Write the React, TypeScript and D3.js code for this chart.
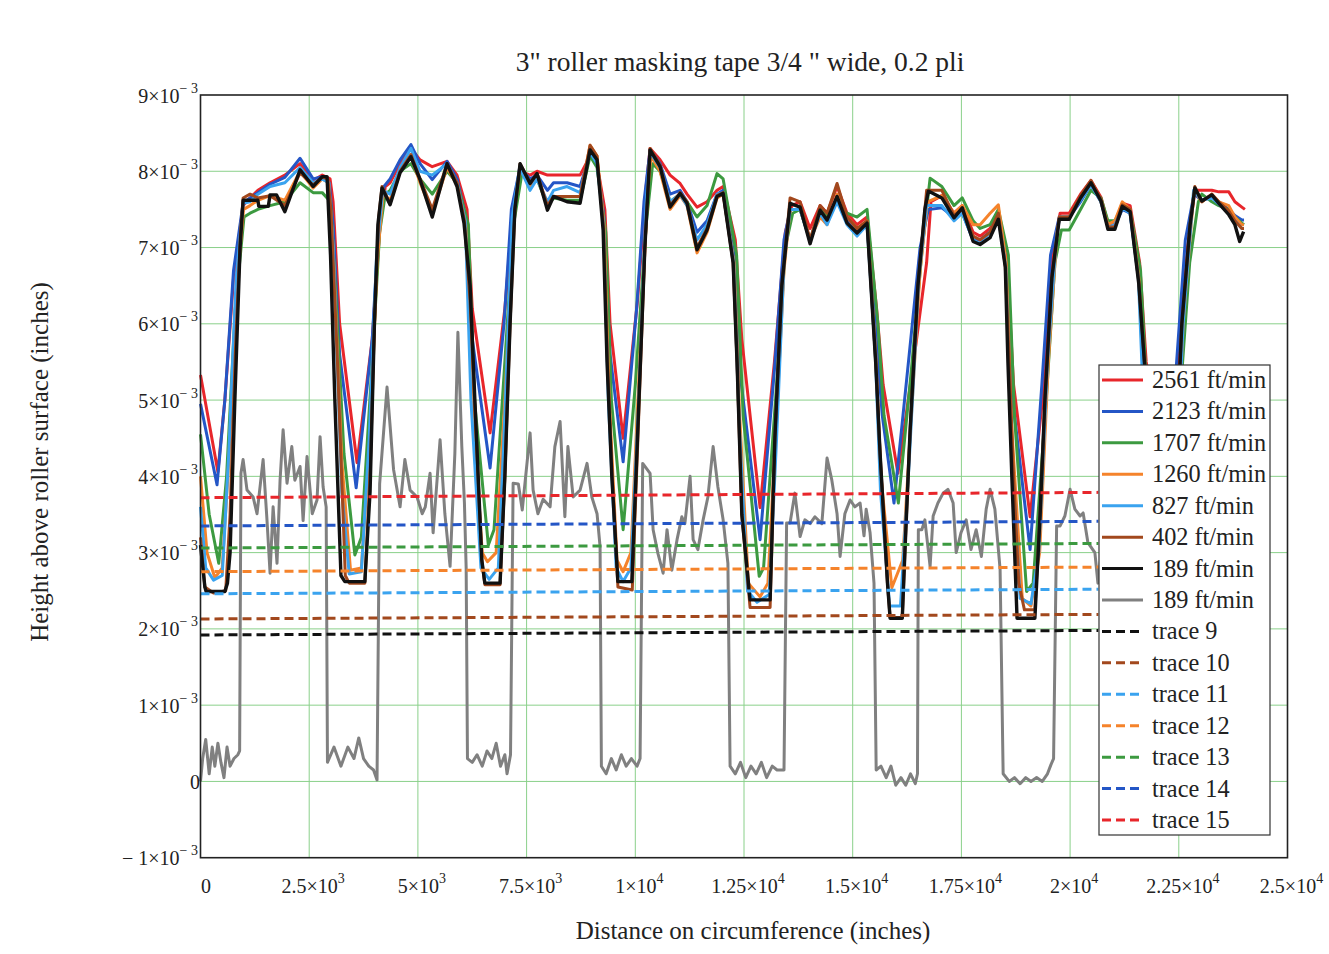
import React from 'react';
import * as d3 from 'd3';

const W = 1329;
const H = 954;

// axis ticks
const xTicks = [0, 2500, 5000, 7500, 10000, 12500, 15000, 17500, 20000, 22500, 25000];
const xTickBase = ['0', '2.5×10', '5×10', '7.5×10', '1×10', '1.25×10', '1.5×10', '1.75×10', '2×10', '2.25×10', '2.5×10'];
const xTickExp = ['', '3', '3', '3', '4', '4', '4', '4', '4', '4', '4'];

// y values are in thousandths of an inch
const yTicks = [-1, 0, 1, 2, 3, 4, 5, 6, 7, 8, 9];
const yTickBase = ['− 1×10', '0', '1×10', '2×10', '3×10', '4×10', '5×10', '6×10', '7×10', '8×10', '9×10'];
const yTickExp = ['− 3', '', '− 3', '− 3', '− 3', '− 3', '− 3', '− 3', '− 3', '− 3', '− 3'];

// [distance (in), height (1e-3 in)]
const speed2561 = [
  [0, 5.33], [400, 4.06], [560, 5.0], [760, 6.6], [980, 7.55],
  [1140, 7.65], [1320, 7.75], [1600, 7.85], [1940, 7.95], [2290, 8.1], [2590, 7.88], [2800, 7.95], [2980, 7.9],
  [3050, 7.6], [3200, 6.0], [3600, 4.18], [3950, 5.8], [4130, 7.3], [4250, 7.8],
  [4360, 7.85], [4590, 8.1], [4840, 8.3], [5050, 8.15], [5330, 8.06], [5670, 8.13], [5900, 7.95], [6130, 7.5],
  [6250, 6.2], [6660, 4.57], [7000, 6.2], [7200, 7.6], [7350, 8.0],
  [7580, 7.95], [7740, 8.0], [7980, 7.95], [8430, 7.95], [8730, 7.95], [8960, 8.2], [9120, 8.1], [9300, 7.5],
  [9420, 6.0], [9720, 4.5], [10050, 6.3], [10250, 7.8], [10340, 8.3],
  [10570, 8.15], [10800, 7.95], [11030, 7.84], [11190, 7.7], [11420, 7.53], [11650, 7.6], [11880, 7.75], [12020, 7.8], [12300, 7.1],
  [12450, 5.8], [12870, 3.59], [13200, 5.5], [13450, 7.2], [13600, 7.55],
  [13790, 7.6], [14020, 7.25], [14250, 7.55], [14410, 7.45], [14640, 7.8], [14870, 7.45], [15100, 7.3], [15330, 7.4], [15550, 6.2],
  [15700, 5.2], [16040, 4.04], [16400, 5.5], [16700, 6.8], [16800, 7.6],
  [17050, 7.68], [17330, 7.45], [17520, 7.55], [17770, 7.2], [17930, 7.15], [18160, 7.25], [18350, 7.45], [18550, 6.8],
  [18700, 5.2], [19080, 3.47], [19400, 5.2], [19600, 6.9], [19770, 7.45],
  [19980, 7.45], [20240, 7.7], [20480, 7.88], [20710, 7.66], [20870, 7.32], [21030, 7.3], [21200, 7.58], [21380, 7.55], [21600, 6.8],
  [21750, 5.5], [22250, 3.8], [22500, 5.5], [22700, 7.0], [22870, 7.75],
  [23030, 7.75], [23260, 7.75], [23420, 7.73], [23650, 7.73], [23790, 7.6], [23950, 7.53], [24020, 7.5],
];

const speed2123 = [
  [0, 4.95], [380, 3.89], [560, 5.0], [760, 6.7], [980, 7.58],
  [1140, 7.65], [1320, 7.72], [1600, 7.83], [1940, 7.92], [2290, 8.17], [2590, 7.9], [2800, 7.93], [2960, 7.85],
  [3050, 7.3], [3200, 5.6], [3580, 3.85], [3950, 5.8], [4100, 7.3], [4220, 7.8],
  [4360, 7.9], [4590, 8.15], [4840, 8.35], [5050, 8.1], [5330, 7.89], [5670, 8.13], [5900, 7.9], [6100, 7.4],
  [6250, 5.8], [6660, 4.11], [6980, 6.0], [7150, 7.5], [7350, 8.05],
  [7580, 7.9], [7740, 7.95], [7980, 7.75], [8120, 7.85], [8430, 7.85], [8730, 7.8], [8960, 8.22], [9120, 8.1], [9280, 7.4],
  [9420, 5.6], [9720, 4.19], [10030, 6.2], [10200, 7.6], [10340, 8.28],
  [10570, 8.1], [10800, 7.7], [11030, 7.75], [11190, 7.6], [11420, 7.2], [11650, 7.35], [11880, 7.7], [12020, 7.75], [12270, 6.9],
  [12420, 5.3], [12870, 3.17], [13200, 5.4], [13420, 7.1], [13560, 7.5],
  [13790, 7.5], [14020, 7.1], [14250, 7.45], [14410, 7.35], [14640, 7.62], [14870, 7.35], [15100, 7.2], [15330, 7.3], [15530, 5.9],
  [15680, 4.8], [15950, 3.65], [16300, 5.6], [16550, 7.0], [16740, 7.5],
  [17050, 7.52], [17330, 7.4], [17520, 7.45], [17770, 7.1], [17930, 7.1], [18160, 7.2], [18350, 7.4], [18530, 6.7],
  [18680, 5.0], [19080, 3.04], [19350, 5.2], [19550, 6.9], [19750, 7.4],
  [19980, 7.4], [20240, 7.6], [20480, 7.82], [20710, 7.6], [20870, 7.28], [21030, 7.28], [21200, 7.5], [21380, 7.45], [21580, 6.6],
  [21720, 5.3], [22200, 3.4], [22450, 5.5], [22650, 7.1], [22850, 7.7],
  [23030, 7.62], [23260, 7.68], [23420, 7.6], [23650, 7.5], [23790, 7.42], [23950, 7.36], [24000, 7.36],
];

const speed1707 = [
  [0, 4.55], [200, 3.5], [420, 2.86], [600, 4.0], [800, 6.2], [1000, 7.4],
  [1140, 7.45], [1320, 7.5], [1600, 7.55], [1940, 7.6], [2290, 7.85], [2590, 7.72], [2800, 7.72], [2990, 7.6],
  [3100, 6.5], [3300, 4.3], [3550, 2.97], [3700, 3.2], [3950, 5.5], [4120, 7.2], [4250, 7.7],
  [4360, 7.75], [4590, 8.0], [4840, 8.1], [5050, 7.9], [5330, 7.7], [5670, 8.0], [5900, 7.85], [6160, 7.3],
  [6300, 5.0], [6620, 3.1], [6750, 3.3], [7000, 5.5], [7200, 7.3], [7400, 8.0],
  [7580, 7.82], [7740, 7.9], [7980, 7.55], [8120, 7.65], [8430, 7.62], [8730, 7.62], [8960, 8.2], [9120, 8.05], [9320, 7.2],
  [9450, 5.0], [9720, 3.3], [10000, 5.2], [10250, 7.3], [10400, 8.1],
  [10570, 8.0], [10800, 7.6], [11030, 7.7], [11190, 7.6], [11420, 7.4], [11650, 7.55], [11880, 7.97], [12020, 7.9], [12330, 6.9],
  [12480, 4.8], [12850, 2.69], [12950, 2.8], [13250, 5.2], [13450, 7.0], [13620, 7.45],
  [13790, 7.5], [14020, 7.1], [14250, 7.5], [14410, 7.4], [14640, 7.6], [14870, 7.45], [15100, 7.4], [15330, 7.5], [15580, 6.0],
  [15720, 4.8], [16050, 3.65], [16350, 5.4], [16600, 7.0], [16780, 7.91],
  [17050, 7.8], [17330, 7.55], [17520, 7.65], [17770, 7.35], [17930, 7.25], [18160, 7.3], [18350, 7.5], [18580, 6.9],
  [18720, 4.8], [19000, 2.49], [19150, 2.6], [19450, 5.0], [19650, 6.8], [19800, 7.23],
  [19980, 7.23], [20240, 7.5], [20480, 7.75], [20710, 7.65], [20870, 7.35], [21030, 7.35], [21200, 7.55], [21380, 7.5], [21620, 6.7],
  [21780, 4.9], [22150, 2.8], [22300, 3.0], [22550, 5.2], [22750, 6.8], [22950, 7.6],
  [23030, 7.7], [23260, 7.6], [23420, 7.55], [23650, 7.5], [23790, 7.4], [23950, 7.32], [24000, 7.3],
];

const speed1260 = [
  [0, 4.0], [150, 3.0], [330, 2.67], [500, 2.8], [650, 4.2], [820, 6.4], [990, 7.5],
  [1140, 7.55], [1320, 7.62], [1600, 7.68], [1940, 7.62], [2290, 8.0], [2590, 7.78], [2800, 7.9], [2950, 7.85],
  [3050, 7.0], [3250, 4.2], [3450, 2.77], [3700, 2.8], [3900, 4.5], [4060, 6.8], [4200, 7.7],
  [4360, 7.62], [4590, 8.02], [4840, 8.2], [5050, 7.85], [5330, 7.45], [5670, 8.05], [5900, 7.82], [6100, 7.3],
  [6250, 5.0], [6480, 3.0], [6600, 2.88], [6800, 3.0], [7000, 5.0], [7200, 7.4], [7350, 8.05],
  [7580, 7.8], [7740, 7.92], [7980, 7.55], [8120, 7.67], [8430, 7.67], [8730, 7.67], [8960, 8.34], [9120, 8.2], [9280, 7.3],
  [9400, 5.0], [9580, 2.9], [9720, 2.75], [9900, 3.0], [10100, 5.5], [10280, 7.7], [10360, 8.2],
  [10570, 8.0], [10800, 7.5], [11030, 7.68], [11190, 7.55], [11420, 6.93], [11650, 7.2], [11880, 7.65], [12020, 7.7], [12270, 6.8],
  [12400, 4.8], [12600, 2.6], [12870, 2.42], [13050, 2.6], [13250, 4.8], [13420, 6.7], [13560, 7.5],
  [13790, 7.5], [14020, 7.1], [14250, 7.4], [14410, 7.3], [14640, 7.7], [14870, 7.4], [15100, 7.25], [15330, 7.35], [15530, 5.6],
  [15650, 4.0], [15900, 2.54], [16150, 2.9], [16350, 4.8], [16550, 6.7], [16720, 7.6],
  [17050, 7.68], [17330, 7.45], [17520, 7.55], [17770, 7.3], [17930, 7.3], [18160, 7.45], [18350, 7.56], [18530, 6.8],
  [18650, 4.7], [18900, 2.4], [19100, 2.3], [19300, 3.0], [19500, 5.5], [19700, 7.2], [19760, 7.4],
  [19980, 7.4], [20240, 7.65], [20480, 7.85], [20710, 7.6], [20870, 7.3], [21030, 7.35], [21200, 7.6], [21380, 7.5], [21580, 6.6],
  [21720, 4.8], [21950, 2.6], [22200, 2.4], [22400, 3.5], [22600, 6.0], [22850, 7.75],
  [23030, 7.6], [23260, 7.7], [23420, 7.6], [23650, 7.55], [23790, 7.4], [23950, 7.3], [24000, 7.3],
];

const speed827 = [
  [0, 3.6], [120, 2.8], [300, 2.64], [500, 2.7], [650, 4.3], [820, 6.6], [980, 7.58],
  [1140, 7.6], [1320, 7.7], [1600, 7.8], [1940, 7.85], [2290, 8.05], [2590, 7.85], [2800, 7.9], [2950, 7.85],
  [3050, 7.0], [3250, 3.8], [3420, 2.72], [3700, 2.75], [3880, 4.5], [4050, 6.9], [4190, 7.75],
  [4360, 7.7], [4590, 8.05], [4840, 8.3], [5050, 8.0], [5330, 7.95], [5670, 8.1], [5900, 7.85], [6090, 7.35],
  [6220, 5.0], [6450, 2.8], [6640, 2.65], [6850, 2.8], [7000, 4.8], [7170, 7.4], [7340, 8.05],
  [7580, 7.75], [7740, 7.9], [7980, 7.6], [8120, 7.75], [8430, 7.8], [8730, 7.72], [8960, 8.25], [9120, 8.1], [9270, 7.3],
  [9380, 5.0], [9560, 2.8], [9720, 2.62], [9900, 2.8], [10080, 5.0], [10250, 7.6], [10340, 8.25],
  [10570, 8.05], [10800, 7.6], [11030, 7.7], [11190, 7.55], [11420, 7.1], [11650, 7.3], [11880, 7.7], [12020, 7.72], [12260, 6.8],
  [12390, 4.7], [12580, 2.5], [12800, 2.35], [13080, 2.45], [13250, 4.5], [13420, 6.8], [13560, 7.5],
  [13790, 7.5], [14020, 7.08], [14250, 7.45], [14410, 7.3], [14640, 7.6], [14870, 7.3], [15100, 7.15], [15330, 7.3], [15520, 5.6],
  [15640, 3.8], [15850, 2.3], [16100, 2.3], [16300, 4.2], [16520, 6.6], [16700, 7.55],
  [17050, 7.55], [17330, 7.35], [17520, 7.45], [17770, 7.1], [17930, 7.05], [18160, 7.2], [18350, 7.42], [18520, 6.75],
  [18640, 4.5], [18850, 2.4], [19100, 2.33], [19280, 3.0], [19480, 5.5], [19680, 7.1], [19760, 7.4],
  [19980, 7.4], [20240, 7.62], [20480, 7.82], [20710, 7.6], [20870, 7.26], [21030, 7.3], [21200, 7.52], [21380, 7.45], [21570, 6.6],
  [21700, 4.8], [21930, 2.5], [22220, 2.3], [22400, 3.5], [22600, 6.0], [22840, 7.75],
  [23030, 7.62], [23260, 7.65], [23420, 7.57], [23650, 7.45], [23790, 7.35], [23950, 7.25], [24000, 7.25],
];

const speed402 = [
  [0, 3.2], [100, 2.55], [300, 2.47], [580, 2.5], [680, 3.5], [800, 5.6], [920, 7.2], [980, 7.65],
  [1140, 7.7], [1320, 7.65], [1600, 7.68], [1940, 7.55], [2290, 7.98], [2590, 7.82], [2800, 7.92], [2930, 7.9],
  [3000, 7.5], [3150, 5.5], [3330, 2.7], [3420, 2.6], [3780, 2.6], [3900, 4.0], [4000, 6.0], [4100, 7.4], [4175, 7.8],
  [4360, 7.58], [4590, 8.0], [4840, 8.22], [5050, 7.9], [5330, 7.5], [5670, 8.1], [5900, 7.85], [6070, 7.35],
  [6200, 6.3], [6320, 4.8], [6470, 2.9], [6540, 2.58], [6890, 2.58], [7000, 4.0], [7120, 6.0], [7230, 7.5], [7350, 8.1],
  [7580, 7.85], [7740, 7.97], [7980, 7.55], [8120, 7.67], [8430, 7.67], [8730, 7.67], [8960, 8.34], [9120, 8.2], [9270, 7.25],
  [9360, 5.5], [9470, 4.0], [9600, 2.55], [9930, 2.51], [10060, 4.5], [10220, 7.0], [10340, 8.3],
  [10570, 8.08], [10800, 7.55], [11030, 7.72], [11190, 7.6], [11420, 7.0], [11650, 7.25], [11880, 7.68], [12020, 7.72], [12250, 6.8],
  [12340, 5.5], [12450, 3.5], [12640, 2.28], [13100, 2.28], [13210, 4.5], [13370, 6.5], [13560, 7.65],
  [13790, 7.6], [14020, 7.1], [14250, 7.55], [14410, 7.45], [14640, 7.84], [14870, 7.4], [15100, 7.25], [15330, 7.35], [15530, 5.5],
  [15630, 4.3], [15800, 2.6], [15860, 2.15], [16140, 2.15], [16200, 3.0], [16320, 4.6], [16500, 6.5], [16700, 7.75],
  [17050, 7.75], [17330, 7.42], [17520, 7.5], [17770, 7.15], [17930, 7.1], [18160, 7.2], [18350, 7.45], [18510, 6.75],
  [18600, 5.5], [18700, 4.0], [18820, 2.6], [18950, 2.25], [19190, 2.25], [19310, 3.5], [19420, 5.0], [19580, 6.6], [19750, 7.4],
  [19980, 7.4], [20240, 7.68], [20480, 7.88], [20710, 7.63], [20870, 7.27], [21030, 7.27], [21200, 7.56], [21380, 7.5], [21580, 6.55],
  [21720, 5.4], [21900, 3.5], [22000, 2.25], [22250, 2.2], [22410, 4.0], [22570, 6.0], [22760, 7.3], [22870, 7.8],
  [23030, 7.6], [23260, 7.7], [23420, 7.6], [23650, 7.48], [23790, 7.35], [23950, 7.25], [24000, 7.25],
];

const speed189 = [
  [0, 3.1], [100, 2.55], [130, 2.49], [560, 2.49], [620, 2.6], [680, 3.0], [790, 5.0], [910, 7.0], [980, 7.62],
  [1320, 7.62], [1340, 7.54], [1560, 7.54], [1600, 7.69], [1750, 7.69], [1940, 7.47], [2290, 8.02], [2590, 7.8], [2800, 7.93], [2910, 7.93],
  [2990, 6.9], [3090, 5.0], [3230, 2.7], [3320, 2.62], [3780, 2.62], [3900, 3.8], [4000, 6.0], [4080, 7.3], [4175, 7.78],
  [4360, 7.56], [4590, 7.98], [4840, 8.19], [5050, 7.89], [5330, 7.4], [5670, 8.1], [5900, 7.8], [6060, 7.32],
  [6200, 6.5], [6310, 5.0], [6470, 2.9], [6540, 2.6], [6890, 2.6], [7000, 4.0], [7120, 6.0], [7230, 7.5], [7350, 8.1],
  [7580, 7.84], [7740, 7.97], [7980, 7.49], [8120, 7.67], [8430, 7.6], [8730, 7.58], [8960, 8.28], [9120, 8.15], [9260, 7.23],
  [9350, 5.5], [9460, 4.0], [9600, 2.62], [9920, 2.62], [10050, 4.5], [10220, 7.0], [10340, 8.28],
  [10570, 8.06], [10800, 7.53], [11030, 7.71], [11190, 7.58], [11420, 6.97], [11650, 7.23], [11880, 7.67], [12020, 7.71], [12250, 6.8],
  [12340, 5.5], [12450, 3.5], [12640, 2.38], [13100, 2.38], [13210, 4.5], [13370, 6.5], [13560, 7.58],
  [13790, 7.53], [14020, 7.05], [14250, 7.49], [14410, 7.36], [14640, 7.67], [14870, 7.32], [15100, 7.19], [15330, 7.32],
  [15530, 5.48], [15630, 4.3], [15800, 2.6], [15860, 2.14], [16140, 2.14], [16200, 3.0], [16320, 4.6], [16500, 6.5], [16660, 7.5], [16740, 7.74],
  [17050, 7.65], [17330, 7.39], [17520, 7.52], [17770, 7.08], [17930, 7.04], [18160, 7.13], [18350, 7.37], [18510, 6.74],
  [18570, 5.5], [18660, 4.0], [18780, 2.14], [19190, 2.14], [19310, 3.5], [19420, 5.0], [19580, 6.6], [19750, 7.37],
  [19980, 7.37], [20240, 7.65], [20480, 7.85], [20710, 7.61], [20870, 7.24], [21030, 7.24], [21200, 7.54], [21380, 7.47],
  [21580, 6.52], [21720, 5.42], [21900, 3.5], [22000, 2.25], [22250, 2.2], [22410, 4.0], [22570, 6.0], [22760, 7.3], [22870, 7.78],
  [23030, 7.61], [23260, 7.69], [23420, 7.58], [23650, 7.43], [23790, 7.3], [23900, 7.08], [23990, 7.21],
];

const speed189b = [
  [0, 0.0], [50, 0.3], [120, 0.55], [200, 0.1], [270, 0.45], [330, 0.2], [400, 0.5], [470, 0.25], [540, 0.05], [610, 0.45], [680, 0.2], [770, 0.3], [860, 0.35], [900, 0.4],
  [930, 4.04], [980, 4.22], [1070, 3.82], [1210, 3.73], [1300, 3.51], [1440, 4.22], [1530, 3.42], [1600, 2.73], [1670, 3.6], [1760, 2.86], [1830, 3.95], [1900, 4.61], [1990, 3.91], [2100, 4.39], [2170, 3.95], [2290, 4.13], [2360, 3.42], [2450, 4.26], [2570, 3.51], [2680, 3.69], [2750, 4.52], [2820, 3.86], [2890, 3.6],
  [2920, 0.25], [3070, 0.45], [3230, 0.2], [3390, 0.45], [3530, 0.3], [3640, 0.57], [3750, 0.3], [3870, 0.2], [3980, 0.15], [4060, 0.02],
  [4120, 3.9], [4290, 5.17], [4440, 4.09], [4590, 3.6], [4700, 4.22], [4820, 3.82], [4980, 3.73], [5100, 3.51], [5170, 3.6], [5280, 4.04], [5350, 3.26], [5510, 4.48], [5620, 3.51], [5740, 2.82], [5850, 4.3], [5920, 5.89], [6010, 4.39], [6070, 3.65], [6110, 2.8],
  [6140, 0.3], [6250, 0.25], [6360, 0.35], [6480, 0.2], [6590, 0.4], [6700, 0.3], [6800, 0.5], [6900, 0.2], [7000, 0.35], [7050, 0.1], [7130, 0.35],
  [7190, 3.91], [7310, 3.9], [7400, 3.56], [7580, 4.57], [7650, 3.82], [7760, 3.51], [7880, 3.7], [8040, 3.6], [8150, 4.39], [8270, 4.72], [8380, 3.47], [8450, 4.39], [8570, 3.73], [8730, 3.82], [8890, 4.17], [9000, 3.73], [9120, 3.51], [9190, 3.08],
  [9220, 0.2], [9330, 0.1], [9450, 0.3], [9560, 0.15], [9680, 0.35], [9790, 0.2], [9910, 0.3], [10040, 0.2], [10110, 0.3],
  [10170, 4.17], [10340, 4.04], [10410, 3.3], [10520, 2.99], [10640, 2.73], [10730, 3.3], [10840, 2.77], [10960, 3.17], [11070, 3.47], [11140, 3.38], [11260, 4.0], [11330, 3.17], [11440, 3.04], [11560, 3.43], [11670, 3.73], [11790, 4.39], [11900, 3.86], [12020, 3.43], [12130, 2.86],
  [12180, 0.2], [12300, 0.1], [12420, 0.25], [12540, 0.05], [12660, 0.2], [12780, 0.1], [12900, 0.25], [13020, 0.05], [13150, 0.2], [13260, 0.15], [13420, 0.15],
  [13480, 3.39], [13560, 3.39], [13670, 3.78], [13790, 3.21], [13900, 3.43], [14020, 3.38], [14130, 3.47], [14290, 3.38], [14410, 4.24], [14520, 3.95], [14640, 3.51], [14710, 2.95], [14820, 3.51], [14940, 3.69], [15050, 3.6], [15170, 3.65], [15260, 3.22], [15310, 3.57], [15400, 3.26], [15490, 2.6],
  [15540, 0.15], [15650, 0.2], [15770, 0.05], [15880, 0.2], [15990, -0.05], [16110, 0.05], [16220, -0.05], [16330, 0.1], [16440, -0.03], [16490, 0.1],
  [16510, 3.3], [16590, 3.3], [16660, 3.43], [16780, 2.82], [16850, 3.48], [16960, 3.65], [17080, 3.78], [17190, 3.83], [17310, 3.65], [17380, 3.0], [17490, 3.26], [17610, 3.43], [17720, 3.04], [17840, 3.3], [17960, 2.95], [18070, 3.57], [18160, 3.83], [18270, 3.57], [18390, 2.78],
  [18460, 0.1], [18600, 0.0], [18720, 0.05], [18850, -0.03], [18980, 0.05], [19100, 0.0], [19230, 0.05], [19360, 0.0], [19480, 0.1], [19560, 0.22], [19620, 0.3],
  [19690, 3.35], [19770, 3.35], [19880, 3.48], [20000, 3.83], [20110, 3.57], [20230, 3.48], [20300, 3.52], [20410, 3.13], [20570, 3.0], [20640, 2.6], [20700, 2.9],
];

// straight reference levels, start and end
const trace9 = [[0, 1.92], [20650, 1.98]];
const trace10 = [[0, 2.13], [20650, 2.19]];
const trace11 = [[0, 2.46], [20650, 2.52]];
const trace12 = [[0, 2.75], [20650, 2.81]];
const trace13 = [[0, 3.06], [20650, 3.12]];
const trace14 = [[0, 3.35], [20650, 3.41]];
const trace15 = [[0, 3.72], [20650, 3.79]];

const seriesNames = [
  '2561 ft/min', '2123 ft/min', '1707 ft/min', '1260 ft/min', '827 ft/min', '402 ft/min', '189 ft/min', '189 ft/min',
  'trace 9', 'trace 10', 'trace 11', 'trace 12', 'trace 13', 'trace 14', 'trace 15',
];
const seriesColors = [
  '#e8262b', '#2456c6', '#3c9a40', '#f5832b', '#3aa3ef', '#a2481d', '#111111', '#808080',
  '#111111', '#a2481d', '#3aa3ef', '#f5832b', '#3c9a40', '#2456c6', '#e8262b',
];
const seriesData = [
  speed2561, speed2123, speed1707, speed1260, speed827, speed402, speed189, speed189b,
  trace9, trace10, trace11, trace12, trace13, trace14, trace15,
];

const serif = '"Liberation Serif", "Times New Roman", serif';

export default function App() {
  const x = d3.scaleLinear().domain([0, 25000]).range([200.5, 1287.5]);
  const y = d3.scaleLinear().domain([-1e-3, 9e-3]).range([857.7, 95]);
  const line = d3.line<number[]>()
    .x(d => x(d[0]))
    .y(d => y(d[1] * 1e-3));

  const legX = 1099;
  const legY = 365;
  const rowY = (i: number) => 380 + i * 31.43;

  return (
    <div style={{ position: 'absolute', left: 0, top: 0 }}>
      <style>{'body{margin:0;background:#fff}'}</style>
      <svg width={W} height={H} style={{ display: 'block', fontFamily: serif }}>
        <rect width={W} height={H} fill="#fff" />

        {/* grid */}
        <g stroke="#8ad08a" strokeWidth={1}>
          {xTicks.slice(1, -1).map(t => (
            <line key={'gx' + t} x1={x(t)} x2={x(t)} y1={y(-1e-3)} y2={y(9e-3)} />
          ))}
          {yTicks.slice(1, -1).map(t => (
            <line key={'gy' + t} x1={x(0)} x2={x(25000)} y1={y(t * 1e-3)} y2={y(t * 1e-3)} />
          ))}
        </g>

        {/* series */}
        <g fill="none" strokeLinejoin="round" strokeLinecap="butt">
          {seriesData.map((d, i) => (
            <path
              key={'s' + i}
              d={line(d) || ''}
              stroke={seriesColors[i]}
              strokeWidth={i === 6 ? 3.4 : 3}
              strokeDasharray={i >= 8 ? '9 5' : undefined}
            />
          ))}
        </g>

        {/* frame */}
        <rect x={x(0)} y={y(9e-3)} width={x(25000) - x(0)} height={y(-1e-3) - y(9e-3)}
          fill="none" stroke="#222" strokeWidth={1.6} />

        {/* y tick labels */}
        {yTicks.map((t, i) => (
          <text key={'yl' + t} x={yTickExp[i] ? 198 : 200} y={y(t * 1e-3) + 7.5} textAnchor="end" fontSize={20} fill="#222">
            {yTickBase[i]}
            {yTickExp[i] && <tspan dy={-10} fontSize={14}>{yTickExp[i]}</tspan>}
          </text>
        ))}

        {/* x tick labels */}
        {xTicks.map((t, i) => (
          <text key={'xl' + t} x={x(t) + (xTickExp[i] ? 4 : 5.5)} y={893} textAnchor="middle" fontSize={20} fill="#222">
            {xTickBase[i]}
            {xTickExp[i] && <tspan dy={-10} fontSize={14}>{xTickExp[i]}</tspan>}
          </text>
        ))}

        {/* titles */}
        <text x={740} y={71} textAnchor="middle" fontSize={27.5} fill="#222">
          3" roller masking tape 3/4 " wide, 0.2 pli
        </text>
        <text x={753} y={939} textAnchor="middle" fontSize={25} fill="#222">
          Distance on circumference (inches)
        </text>
        <text transform="translate(48,462) rotate(-90)" textAnchor="middle" fontSize={25} fill="#222">
          Height above roller surface (inches)
        </text>

        {/* legend */}
        <g>
          <rect x={legX} y={legY} width={171} height={470} fill="#fff" stroke="#333" strokeWidth={1.2} />
          {seriesNames.map((name, i) => (
            <g key={'lg' + i}>
              <line
                x1={1102} x2={i >= 8 ? 1140 : 1143}
                y1={rowY(i)} y2={rowY(i)}
                stroke={seriesColors[i]} strokeWidth={3}
                strokeDasharray={i >= 8 ? '9 5' : undefined}
              />
              <text x={1152} y={rowY(i) + 8} fontSize={24.3} fill="#222">{name}</text>
            </g>
          ))}
        </g>
      </svg>
    </div>
  );
}
